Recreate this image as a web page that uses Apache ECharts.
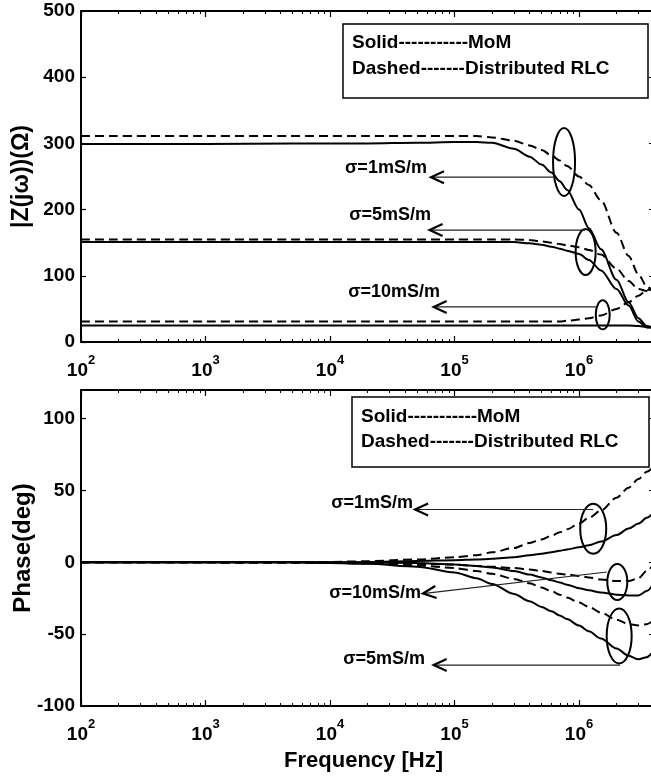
<!DOCTYPE html>
<html><head><meta charset="utf-8">
<script src="https://cdn.jsdelivr.net/npm/echarts@6/dist/echarts.min.js"></script>
<style>html,body{margin:0;padding:0;background:#fff}#c{width:651px;height:780px}</style>
</head><body><div id="c"></div>
<script>
// ---------------- data ----------------
const freqs = [1e2,1e3,5e3,1e4,2e4,5e4,1e5,1.5e5,2e5,3e5,4e5,5e5,6e5,7e5,8e5,1e6,1.2e6,1.5e6,2e6,2.5e6,3e6,3.5e6,4e6];

// |Z(jw)| (Ohm)
const magMoM1 = [299,299,300,300,300,301,302,302,301,292,280,268,256,243,230,200,172,140,94,60,36,24,21];
const magRLC1 = [311,311,311,311,311,311,311,311,309,304,297,290,282,274,266,250,237,214,165,130,102,84,72];
const magMoM5 = [151,151,151,151,151,151,151,151,151,151,149,147,144,141,138,133,124,108,80,55,31,22,21];
const magRLC5 = [155,155,155,155,155,155,155,155,155,155,154,152,150,148,146,143,139,132,111,92,80,77,78];
const magMoM10 = [25,25,25,25,25,25,25,25,25,25,25,25,25,25,25,25,25,25,25,25,24,23,22];
const magRLC10 = [31,31,31,31,31,31,31,31,31,31,31,31,31,31,32,34,36,40,50,60,70,78,84];

// Phase (deg)
const phMoM1 = [0,0,0,0,0.2,1,1.5,2,2.5,3.5,5,6,7,8,9,10.5,12,14.5,19,23.5,27,31,35];
const phRLC1 = [0,0,0.1,0.3,0.8,2,3.5,5,7,10,13.5,16,18.5,21,23,27,31,36,45,52,58,63,67];
const phMoM10 = [0,0,0,0,-0.2,-0.5,-1.5,-2.5,-3.5,-6,-8.5,-10.5,-12.5,-14,-15.5,-18,-19.5,-21,-22.5,-23,-23,-20,-14];
const phRLC10 = [0,0,-0.1,-0.3,-0.5,-1,-1.5,-2.5,-3,-4,-5,-6,-7,-8,-8.5,-9.5,-10.5,-12,-13,-13,-11,-6,-1];
const phMoM5 = [0,0,0,-0.5,-1,-3,-7,-11,-15,-22,-27,-31,-34,-37,-39.5,-44,-48,-53,-60,-65,-67.5,-66,-61];
const phRLC5 = [0,0,-0.1,-0.3,-0.8,-2,-4,-6,-8,-11.5,-14.5,-17.5,-20,-22.5,-24.5,-28,-31,-35,-40,-43,-44,-43,-40];

// ticks
const xMajorTicks = [1e2,1e3,1e4,1e5,1e6];
const xDecades = [1e2,1e3,1e4,1e5,1e6];
const xMinorMultipliers = [2,3,4,5,6,7,8,9];
const magTicks = [0,100,200,300,400,500];
const phaseTicks = [-100,-50,0,50,100];

// texts
const legendLines = ['Solid-----------MoM', 'Dashed-------Distributed RLC'];
const magAxisName = '|Z(jω))(Ω)';
const phaseAxisName = 'Phase(deg)';
const freqAxisName = 'Frequency [Hz]';

// annotations (data coordinates: [frequency, value])
const topLabels = ['σ=1mS/m','σ=5mS/m','σ=10mS/m'];
const topLabelAnchors = [[6.0e4,263],[6.47e4,192],[7.65e4,76]];
const topEllipseCenters = [[7.58e5,272],[1.13e6,136],[1.55e6,41]];
const topArrows = [[[6.2e5,249],[6.47e4,249]],[[1.12e6,169],[6.3e4,169]],[[1.41e6,53],[6.8e4,53]]];
const botLabels = ['σ=1mS/m','σ=10mS/m','σ=5mS/m'];
const botLabelAnchors = [[4.64e4,41],[5.38e4,-21.5],[5.8e4,-67.4]];
const botEllipseCenters = [[1.3e6,23.4],[2.03e6,-13.7],[2.1e6,-51.2]];
const botArrows = [[[1.3e6,36.8],[4.82e4,36.8]],[[1.67e6,-6.7],[5.58e4,-21.7]],[[2.13e6,-71.5],[6.8e4,-71.5]]];

// ---------------- styles ----------------
const FONT = '"Liberation Sans", Arial, Helvetica, sans-serif';
const topEllipseRadii = [[11,34],[10,23],[7,14.5]];
const botEllipseRadii = [[13,25],[10,18],[12.5,27.5]];
const xMinorTicks = [];
xDecades.forEach(d => xMinorMultipliers.forEach(m => { if (d*m < 4e6) xMinorTicks.push(d*m); }));

const chart = echarts.init(document.getElementById('c'), null, {renderer:'canvas'});

const grids = [
  {left:81, top:11, width:573, height:331, containLabel:false, outerBoundsMode:'none'},
  {left:81, top:390, width:573, height:316, containLabel:false, outerBoundsMode:'none'}
];

function xAxisSet(gi, withName) {
  const base = {type:'log', logBase:10, gridIndex:gi, min:100, max:4e6,
    splitLine:{show:false}, minorTick:{show:false}, minorSplitLine:{show:false}};
  const lbl = {
    show:true, customValues:xMajorTicks, margin:12,
    formatter: v => '{b|10}{s|' + Math.round(Math.log10(v)) + '}',
    rich: {
      b:{fontSize:19, fontWeight:'bold', fontFamily:FONT, color:'#000', lineHeight:34},
      s:{fontSize:13, fontWeight:'bold', fontFamily:FONT, color:'#000', verticalAlign:'top'}
    }
  };
  const main = Object.assign({}, base, {
    position:'bottom',
    axisLine:{show:true, onZero:false, lineStyle:{color:'#000', width:2}},
    axisTick:{show:true, inside:true, length:6, customValues:xMajorTicks, lineStyle:{color:'#000', width:1.2}},
    axisLabel:lbl
  });
  if (withName) {
    Object.assign(main, {name:freqAxisName, nameLocation:'middle', nameGap:44, nameMoveOverlap:false,
      nameTextStyle:{fontSize:22, fontWeight:'bold', fontFamily:FONT, color:'#000', padding:[0,8,0,0]}});
  }
  const minorB = Object.assign({}, base, {position:'bottom',
    axisLine:{show:false, onZero:false}, axisLabel:{show:false},
    axisTick:{show:true, inside:true, length:3, customValues:xMinorTicks, lineStyle:{color:'#000', width:1}}});
  const majorT = Object.assign({}, base, {position:'top',
    axisLine:{show:true, onZero:false, lineStyle:{color:'#000', width:2}}, axisLabel:{show:false},
    axisTick:{show:true, inside:true, length:6, customValues:xMajorTicks, lineStyle:{color:'#000', width:1.2}}});
  const minorT = Object.assign({}, base, {position:'top',
    axisLine:{show:false, onZero:false}, axisLabel:{show:false},
    axisTick:{show:true, inside:true, length:3, customValues:xMinorTicks, lineStyle:{color:'#000', width:1}}});
  return [main, minorB, majorT, minorT];
}

function yAxisSet(gi, min, max, ticks, name, nameGap, nameSize) {
  const left = {type:'value', gridIndex:gi, min:min, max:max, position:'left',
    splitLine:{show:false},
    axisLine:{show:true, onZero:false, lineStyle:{color:'#000', width:2}},
    axisTick:{show:true, inside:true, length:5, customValues:ticks, lineStyle:{color:'#000', width:1.2}},
    axisLabel:{show:true, customValues:ticks, margin:6, fontSize:19, fontWeight:'bold', fontFamily:FONT, color:'#000'},
    name:name, nameLocation:'middle', nameGap:nameGap, nameRotate:90, nameMoveOverlap:false,
    nameTextStyle:{fontSize:nameSize, fontWeight:'bold', fontFamily:FONT, color:'#000'}
  };
  const right = {type:'value', gridIndex:gi, min:min, max:max, position:'right',
    splitLine:{show:false},
    axisLine:{show:true, onZero:false, lineStyle:{color:'#000', width:2}},
    axisTick:{show:true, inside:true, length:5, customValues:ticks, lineStyle:{color:'#000', width:1.2}},
    axisLabel:{show:false}
  };
  return [left, right];
}

function line(values, xi, yi, dashed) {
  return {type:'line', xAxisIndex:xi, yAxisIndex:yi, data:freqs.map((f,i)=>[f, values[i]]),
    symbol:'none', showSymbol:false, smooth:0.3, smoothMonotone:'x', silent:true, animation:false, z:3,
    lineStyle:{color:'#000', width:2, type: dashed ? [9,5] : 'solid'}};
}

function annotations(xi, yi, labels, anchors, centers, radii, arrows) {
  return {
    type:'custom', xAxisIndex:xi, yAxisIndex:yi, silent:true, clip:false, z:4, animation:false,
    data:[[freqs[0], 0]],
    renderItem: function(params, api) {
      const ch = [];
      centers.forEach((c,i) => {
        const p = api.coord(c);
        ch.push({type:'ellipse', shape:{cx:p[0], cy:p[1], rx:radii[i][0], ry:radii[i][1]},
          style:{fill:'none', stroke:'#000', lineWidth:2}});
      });
      arrows.forEach(a => {
        const s = api.coord(a[0]), t = api.coord(a[1]);
        const dx = s[0]-t[0], dy = s[1]-t[1], L = Math.sqrt(dx*dx+dy*dy);
        const ux = dx/L, uy = dy/L, nx = -uy, ny = ux;
        ch.push({type:'line', shape:{x1:s[0], y1:s[1], x2:t[0], y2:t[1]}, style:{stroke:'#222', lineWidth:1.2}});
        ch.push({type:'polyline', shape:{points:[
          [t[0]+ux*13+nx*6, t[1]+uy*13+ny*6], [t[0], t[1]], [t[0]+ux*13-nx*6, t[1]+uy*13-ny*6]]},
          style:{fill:'none', stroke:'#000', lineWidth:2.2}});
      });
      labels.forEach((txt,i) => {
        const p = api.coord(anchors[i]);
        ch.push({type:'text', style:{text:txt, x:p[0], y:p[1], align:'right', verticalAlign:'middle',
          textAlign:'right', textVerticalAlign:'middle',
          font:'bold 18px ' + FONT, fill:'#000'}});
      });
      return {type:'group', children:ch};
    }
  };
}

function legendBox(left, top, w, h, textLeft, textCenters) {
  return [
    {type:'rect', z:20, shape:{x:left, y:top, width:w, height:h}, style:{fill:'#fff', stroke:'#000', lineWidth:1.5}},
    {type:'text', x:textLeft, y:textCenters[0], z:21, style:{text:legendLines[0], font:'bold 19px ' + FONT, fill:'#000', verticalAlign:'middle', textVerticalAlign:'middle'}},
    {type:'text', x:textLeft, y:textCenters[1], z:21, style:{text:legendLines[1], font:'bold 19px ' + FONT, fill:'#000', verticalAlign:'middle', textVerticalAlign:'middle'}}
  ];
}

const option = {
  backgroundColor:'#fff',
  animation:false,
  grid:grids,
  xAxis:[].concat(xAxisSet(0,false), xAxisSet(1,true)),
  yAxis:[].concat(yAxisSet(0,0,500,magTicks,magAxisName,48,23), yAxisSet(1,-100,120,phaseTicks,phaseAxisName,46,24)),
  series:[
    line(magMoM1,0,0,false), line(magRLC1,0,0,true),
    line(magMoM5,0,0,false), line(magRLC5,0,0,true),
    line(magMoM10,0,0,false), line(magRLC10,0,0,true),
    annotations(0,0,topLabels,topLabelAnchors,topEllipseCenters,topEllipseRadii,topArrows),
    line(phMoM1,4,2,false), line(phRLC1,4,2,true),
    line(phMoM10,4,2,false), line(phRLC10,4,2,true),
    line(phMoM5,4,2,false), line(phRLC5,4,2,true),
    annotations(4,2,botLabels,botLabelAnchors,botEllipseCenters,botEllipseRadii,botArrows)
  ],
  graphic:[].concat(legendBox(343,24,305,74,352,[43,69]), legendBox(352,397,297,70,361,[417,442]))
};
chart.setOption(option);
</script></body></html>
